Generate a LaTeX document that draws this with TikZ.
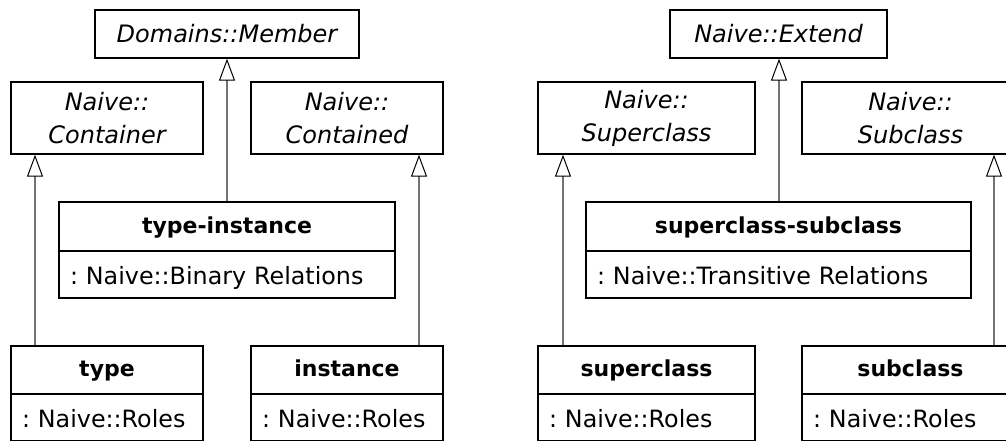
\documentclass[tikz,border=0pt]{standalone}
\usepackage{fontspec}
\setmainfont{DejaVu Sans}
\usetikzlibrary{arrows.meta}
\frenchspacing
\begin{document}
\begin{tikzpicture}[x=0.5pt,y=-0.5pt,
  box/.style={draw=black,line width=0.65pt,rectangle,inner sep=0pt,fill=white},
  abs/.style={box,font=\fontsize{12}{16.5}\selectfont\itshape,align=center},
  ttl/.style={box,font=\fontsize{11}{13}\selectfont\bfseries,align=center,text height=9pt,text depth=2.5pt},
  attr/.style={box,font=\fontsize{11.9}{14}\selectfont\frenchspacing,align=left,inner xsep=5.5pt,text height=10.25pt,text depth=0.25pt},
  gen/.style={draw=black!55,line width=0.6pt,
    -{Triangle[open,length=11pt,width=8pt,color=black,line width=0.5pt]}}]
\useasboundingbox (0,0) rectangle (1006,440);
\clip (0,0) rectangle (1006,440);
\fill[white] (0,0) rectangle (1006,440);
% ---------- left diagram ----------
\node[abs,minimum width=132pt,minimum height=24pt] (mem) at (227,34) {Domains::Member};
\node[abs,minimum width=96pt,minimum height=36pt] (cont) at (107,118) {Naive::\\Container};
\node[abs,minimum width=96pt,minimum height=36pt] (contd) at (347,118) {Naive::\\Contained};
\node[ttl,minimum width=168pt,minimum height=24.5pt] (ti) at (227,226.5) {type-instance};
\node[attr,text width=157pt,minimum height=23.5pt] (tia) at (227,274.5) {: Naive::Binary Relations};
\node[ttl,minimum width=96pt,minimum height=24pt] (ty) at (107,370) {type};
\node[attr,text width=85pt,minimum height=23.5pt] (tya) at (107,417.5) {: Naive::Roles};
\node[ttl,minimum width=96pt,minimum height=24pt] (in) at (347,370) {instance};
\node[attr,text width=85pt,minimum height=23.5pt] (ina) at (347,417.5) {: Naive::Roles};
\coordinate (xa) at (35,0);
\coordinate (xb) at (227,0);
\coordinate (xc) at (419,0);
\draw[gen] (ty.north -| xa) -- (cont.south -| xa);
\draw[gen] (ti.north -| xb) -- (mem.south -| xb);
\draw[gen] (in.north -| xc) -- (contd.south -| xc);
% ---------- right diagram ----------
\node[abs,minimum width=108.5pt,minimum height=24pt] (ext) at (778.5,34) {Naive::Extend};
\node[abs,minimum width=108.5pt,minimum height=36pt] (sup) at (646.5,118) {Naive::\\Superclass};
\node[abs,minimum width=108.5pt,minimum height=36pt] (sub) at (910.5,118) {Naive::\\Subclass};
\node[ttl,minimum width=192.5pt,minimum height=24.5pt] (ss) at (778.5,226.5) {superclass-subclass};
\node[attr,text width=181.5pt,minimum height=23.5pt] (ssa) at (778.5,274.5) {: Naive::Transitive Relations};
\node[ttl,minimum width=108.5pt,minimum height=24pt] (sp) at (646.5,370) {superclass};
\node[attr,text width=97.5pt,minimum height=23.5pt] (spa) at (646.5,417.5) {: Naive::Roles};
\node[ttl,minimum width=108.5pt,minimum height=24pt] (sb) at (910.5,370) {subclass};
\node[attr,text width=97.5pt,minimum height=23.5pt] (sba) at (910.5,417.5) {: Naive::Roles};
\coordinate (xd) at (563,0);
\coordinate (xe) at (779,0);
\coordinate (xf) at (994,0);
\draw[gen] (sp.north -| xd) -- (sup.south -| xd);
\draw[gen] (ss.north -| xe) -- (ext.south -| xe);
\draw[gen] (sb.north -| xf) -- (sub.south -| xf);
\end{tikzpicture}
\end{document}
